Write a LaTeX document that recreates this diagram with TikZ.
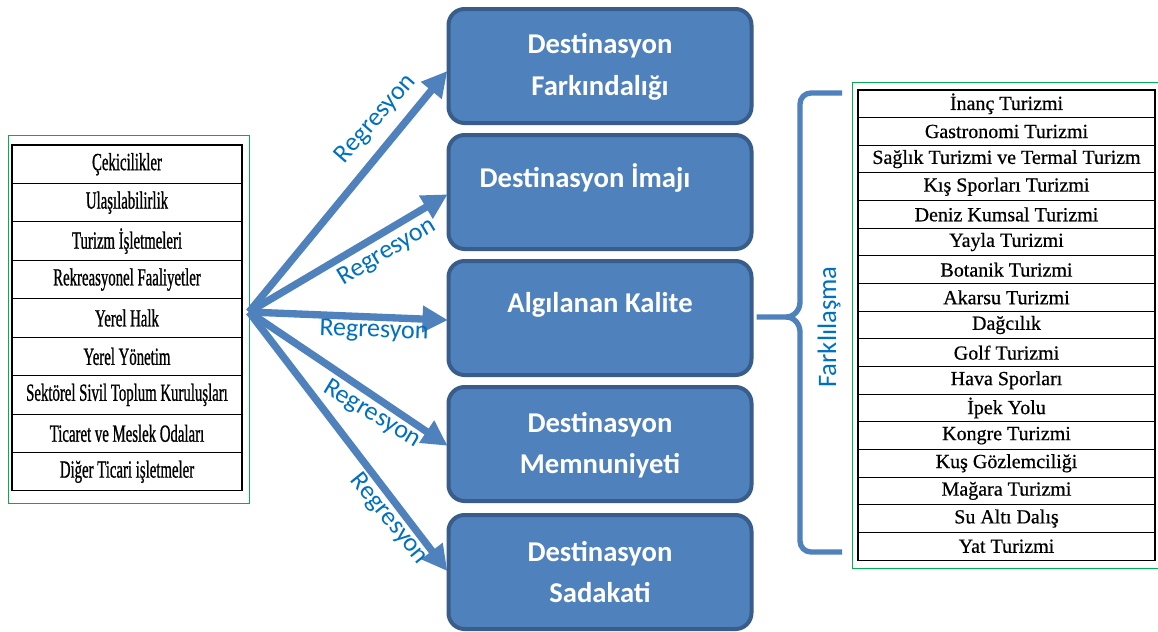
\documentclass[tikz,border=0pt]{standalone}
\usepackage{fontspec}
\setmainfont{Carlito}
\newfontfamily\tabfont[FakeBold=0.6]{Liberation Serif}
\newfontfamily\condfont[FakeStretch=0.6,FakeBold=0.8]{Liberation Serif}
\usetikzlibrary{arrows.meta,calc}
\definecolor{boxfill}{HTML}{4F81BD}
\definecolor{boxedge}{HTML}{385D8A}
\definecolor{labblue}{HTML}{0070C0}
\definecolor{frgreen}{HTML}{00B050}
\tikzset{
  bluebox/.style={draw=boxedge, line width=3pt, fill=boxfill, rounded corners=12pt,
    minimum width=303*0.75pt, minimum height=114*0.75pt, inner sep=0pt},
  boxtext/.style={text=white, font=\fontsize{21.5}{31}\selectfont\bfseries, align=center},
  regarrow/.style={draw=boxfill, line width=5.5pt, -{Triangle[length=19pt,width=19pt]}, shorten >=-1pt},
  reglabel/.style={text=labblue, font=\fontsize{19.5}{22}\selectfont},
  frame/.style={draw=frgreen, line width=1.1pt, inner sep=0pt},
  leftrow/.style={draw=black, line width=0.8pt, minimum width=230*0.75pt, minimum height=38.44*0.75pt,
    inner sep=0pt, font=\condfont\fontsize{18.5}{20}\selectfont},
  rightrow/.style={draw=black, line width=0.8pt, minimum width=297*0.75pt, minimum height=27.65*0.75pt,
    inner sep=0pt, font=\tabfont\fontsize{15}{16}\selectfont},
}
\begin{document}
\begin{tikzpicture}[x=0.75pt,y=-0.75pt]
\useasboundingbox[fill=white] (0,0) rectangle (1158,632);
% left frame
\node[frame, minimum width=241*0.75pt, minimum height=368*0.75pt, anchor=north west] (left) at (8,135) {};
\foreach \t [count=\i] in {Çekicilikler,Ulaşılabilirlik,Turizm İşletmeleri,Rekreasyonel Faaliyetler,Yerel Halk,Yerel Yönetim,Sektörel Sivil Toplum Kuruluşları,Ticaret ve Meslek Odaları,Diğer Ticari işletmeler}
  \node[leftrow] (l\i) at (127,{145+38.44*(\i-0.5)}) {\t};
% right frame
\node[frame, minimum width=310*0.75pt, minimum height=486*0.75pt, anchor=north west] (right) at (852,82) {};
\foreach \t [count=\i] in {İnanç Turizmi,Gastronomi Turizmi,Sağlık Turizmi ve Termal Turizm,Kış Sporları Turizmi,Deniz Kumsal Turizmi,Yayla Turizmi,Botanik Turizmi,Akarsu Turizmi,Dağcılık,Golf Turizmi,Hava Sporları,İpek Yolu,Kongre Turizmi,Kuş Gözlemciliği,Mağara Turizmi,Su Altı Dalış,Yat Turizmi}
  \node[rightrow] (r\i) at (1006.5,{90+27.65*(\i-0.5)}) {\t};
% blue boxes
\node[bluebox] (b1) at (600,66) {};
\node[bluebox] (b2) at (600,192) {};
\node[bluebox] (b3) at (600,318) {};
\node[bluebox] (b4) at (600,444) {};
\node[bluebox] (b5) at (600,572) {};
\node[boxtext] (t1) at (600,67) {Destinasyon\\Farkındalığı};
\node[boxtext] (t2) at (585,178) {Destinasyon İmajı};
\node[boxtext] (t3) at (600,305) {Algılanan Kalite};
\node[boxtext] (t4) at (600,445) {Destinasyon\\Memnuniyeti};
\node[boxtext] (t5) at (600,572) {Destinasyon\\Sadakati};
% arrows
\coordinate (src) at (249,312);
\foreach \b/\dy in {b1/6,b2/3,b3/2,b4/1,b5/-2}
  \draw[regarrow] (src) -- ($(\b.west)+(0,\dy)$);
\node[reglabel, rotate=49] (g1) at (376,119) {Regresyon};
\node[reglabel, rotate=31] (g2) at (387,252) {Regresyon};
\node[reglabel, rotate=-2] (g3) at (374,331) {Regresyon};
\node[reglabel, rotate=-31] (g4) at (372,414) {Regresyon};
\node[reglabel, rotate=-51] (g5) at (389,519) {Regresyon};
% brace
\coordinate (btip) at ($(b3.east)+(3,-1)$);
\draw[boxfill, line width=4pt, line join=round]
  (842,93) -- (811,93) to[out=180,in=90] (800,104) -- (800,302) to[out=-90,in=0] (786,317) -- (btip);
\draw[boxfill, line width=4pt, line join=round]
  (786,317) to[out=0,in=90] (800,332) -- (800,541) to[out=-90,in=180] (811,552) -- (842,552);
\node[reglabel, rotate=90, font=\fontsize{20}{22}\selectfont] (fark) at (829,327) {Farklılaşma};
\end{tikzpicture}
\end{document}
